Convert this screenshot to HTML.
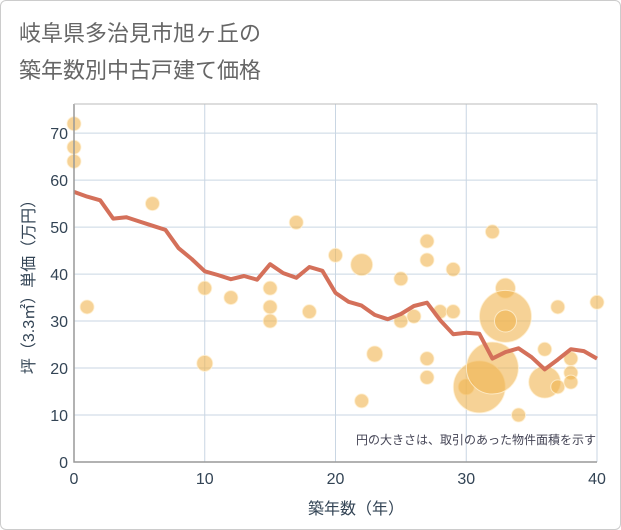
<!DOCTYPE html>
<html><head><meta charset="utf-8"><style>
body{margin:0;background:#fff;}
#wrap{position:relative;width:619px;height:528px;border:1px solid #ccc;border-radius:6px;overflow:hidden;background:#fff;}
text{font-family:"Liberation Sans","Noto Sans CJK JP",sans-serif;}
</style></head><body>
<div id="wrap">
<svg id="svg" width="621" height="530">
<text x="18" y="40" font-size="22" fill="#666">岐阜県多治見市旭ヶ丘の</text>
<text x="18" y="77" font-size="22" fill="#666">築年数別中古戸建て価格</text>
<g id="grid"></g>
<g id="bubbles"></g>
<g id="line"></g>
<g id="axes"></g>
<text x="595" y="443" font-size="12" fill="#445" text-anchor="end">円の大きさは、取引のあった物件面積を示す</text>
<text x="355" y="513" font-size="16" fill="#345" text-anchor="middle">築年数（年）</text>
<text transform="translate(33,282) rotate(-90)" font-size="16" fill="#345" text-anchor="middle">坪（3.3㎡）単価（万円）</text>
</svg></div>
<script>
const lineX=[0,1,2,3,4,5,6,7,8,9,10,11,12,13,14,15,16,17,18,19,20,21,22,23,24,25,26,27,28,29,30,31,32,33,34,35,36,37,38,39,40];
const lineY=[57.5,56.5,55.7,51.8,52.1,51.2,50.3,49.4,45.5,43.2,40.6,39.8,38.9,39.6,38.8,42.1,40.2,39.2,41.5,40.7,36,34.1,33.3,31.3,30.4,31.5,33.2,33.9,30.2,27.2,27.5,27.3,22,23.4,24.2,22.3,19.7,21.8,24,23.6,22];
const bubX=[0,0,0,1,6,10,10,12,15,15,15,17,18,20,22,22,23,25,25,26,27,27,27,27,28,29,29,30,31,32,32,33,33,33,34,36,36,37,37,38,38,38,40];
const bubY=[72,67,64,33,55,37,21,35,37,33,30,51,32,44,42,13,23,39,30,31,47,43,22,18,32,41,32,16,16,20,49,37,31,30,10,24,17,33,16,22,19,17,34];
const bubR=[7,7,7,7,7,7,8,7,7,7,7,7,7,7,11,7,8,7,7,7,7,7,7,7,7,7,7,8,26,26,7,10,26,11,7,7,16,7,7,7,7,7,7];
const xTicks=[0,10,20,30,40];
const yTicks=[0,10,20,30,40,50,60,70];
const L=73,R=596,T=103,B=461,XMAX=40,YMAX=76.2;
const sx=v=>L+(R-L)*v/XMAX, sy=v=>B-(B-T)*v/YMAX;
const NS='http://www.w3.org/2000/svg';
function mk(tag,attrs,parent,txt){const e=document.createElementNS(NS,tag);for(const k in attrs)e.setAttribute(k,attrs[k]);if(txt!==undefined)e.textContent=txt;document.getElementById(parent).appendChild(e);return e;}
yTicks.forEach(v=>{
 const g=mk('line',{x1:L,x2:R,y1:sy(v),y2:sy(v),stroke:'#c9d6e3','stroke-width':1},'grid');
 
 
 const t=mk('text',{x:L-6,y:sy(v)+6,'font-size':16,fill:'#345','text-anchor':'end'},'axes',v);
 
 
});
xTicks.forEach(v=>{
 const g=mk('line',{x1:sx(v),x2:sx(v),y1:T,y2:B,stroke:'#c9d6e3','stroke-width':1},'grid');
 
 
 const t=mk('text',{x:sx(v),y:B+22,'font-size':16,fill:'#345','text-anchor':'middle'},'axes',v);
 
 
});
const ax=mk('path',{d:`M${L},${T}V${B}H${R}`,fill:'none',stroke:'#999','stroke-width':1.5},'axes');


const bt=mk('line',{x1:L,x2:R,y1:T,y2:T,stroke:'#bbb','stroke-width':1},'axes');


bubX.forEach((x,i)=>{
 const c=mk('circle',{cx:sx(x),cy:sy(bubY[i]),r:bubR[i],fill:'rgba(240,180,80,0.6)',stroke:'rgba(255,240,210,0.8)','stroke-width':1},'bubbles');
 
 
});
const d=lineX.map((x,i)=>(i?'L':'M')+sx(x).toFixed(1)+','+sy(lineY[i]).toFixed(1)).join('');
const p=mk('path',{d:d,fill:'none',stroke:'#d4705a','stroke-width':4,'stroke-linejoin':'round'},'line');


</script>
</body></html>
